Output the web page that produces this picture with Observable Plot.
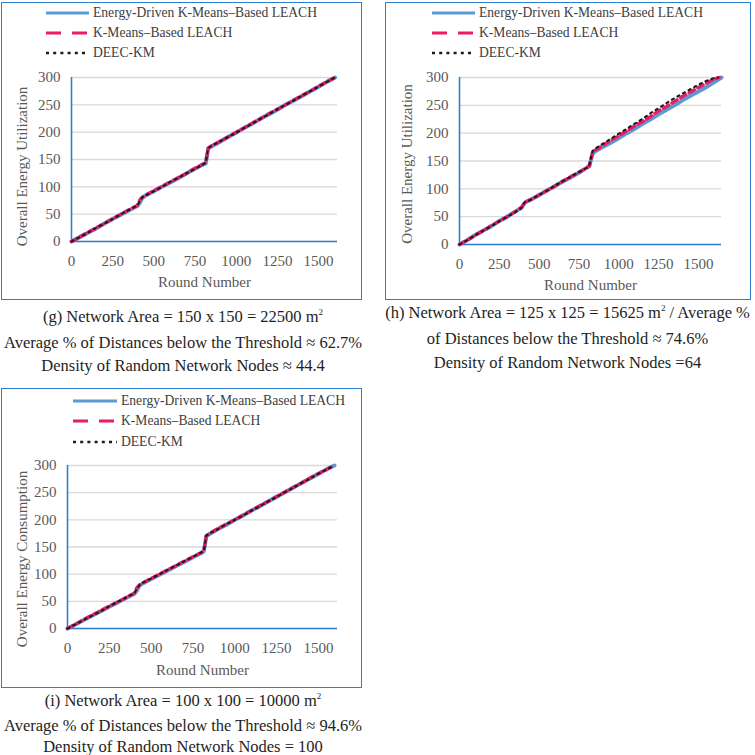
<!DOCTYPE html>
<html>
<head>
<meta charset="utf-8">
<script src="https://cdn.jsdelivr.net/npm/d3@7"></script>
<script src="https://cdn.jsdelivr.net/npm/@observablehq/plot@0.6"></script>
<style>
  body { margin: 0; background: #fff; }
  #page { position: relative; width: 755px; height: 755px; overflow: hidden; background: #fff;
          font-family: "Liberation Serif", "Times New Roman", Times, serif; }
  .box { position: absolute; box-sizing: border-box; border: 1.6px solid #2f7fcf; pointer-events: none; }
  .chart { position: absolute; }
  .legend { position: absolute; font-size: 13.6px; color: #404040; }
  .legend .row { position: absolute; left: 0; display: flex; align-items: center; white-space: nowrap; height: 18px; }
  .legend svg { display: block; margin-right: 4px; }
  .caption { position: absolute; text-align: center; font-size: 16.5px; color: #1e1e1e; white-space: nowrap; }
  .caption sup { font-size: 9px; vertical-align: 0; position: relative; top: -0.75em; }
</style>
</head>
<body>
<div id="page"></div>
<script>
// Series and axis ticks shared by all three panels
const seriesNames = ["Energy-Driven K-Means–Based LEACH", "K-Means–Based LEACH", "DEEC-KM"];
const yTicks = [0, 50, 100, 150, 200, 250, 300];
const xTicks = [0, 250, 500, 750, 1000, 1250, 1500];
const xTitle = "Round Number";

// (g) 150 x 150 network
const roundsG = [0, 50, 100, 150, 200, 250, 300, 350, 400, 415, 430, 450, 500, 550, 600, 650, 700, 750, 800, 815, 830, 850,
  900, 950, 1000, 1050, 1100, 1150, 1200, 1250, 1300, 1350, 1400, 1450, 1500, 1550, 1600];
const edkmG = [0, 8, 16, 24, 33, 41, 49, 57, 65, 71, 80, 84, 92, 100, 108, 116, 125, 133, 141, 143, 170, 174,
  182, 191, 199, 208, 216, 225, 233, 241, 250, 258, 266, 275, 283, 292, 300];
const kmG = [0, 8, 17, 25, 33, 42, 50, 58, 66, 76, 81, 85, 93, 101, 109, 117, 125, 134, 142, 144, 171, 175,
  183, 191, 200, 208, 217, 225, 234, 242, 250, 259, 267, 275, 284, 292, 300];
const deecG = [0, 8, 16, 25, 33, 41, 50, 58, 66, 74, 81, 84, 92, 100, 109, 117, 125, 133, 141, 144, 171, 175,
  183, 191, 199, 208, 216, 225, 233, 242, 250, 258, 267, 275, 283, 292, 300];
const yTitleG = "Overall Energy Utilization";
const captionG = ["(g) Network Area = 150 x 150 = 22500 m²", "Average % of Distances below the Threshold ≈ 62.7%",
  "Density of Random Network Nodes ≈ 44.4"];

// (h) 125 x 125 network
const roundsH = [0, 50, 100, 150, 200, 250, 300, 350, 390, 410, 450, 500, 550, 600, 650, 700, 750, 800, 815, 835, 850,
  900, 950, 1000, 1050, 1100, 1150, 1200, 1250, 1300, 1350, 1400, 1450, 1500, 1550, 1600];
const edkmRoundsH = [...roundsH, 1645];
const edkmH = [0, 8, 17, 25, 33, 42, 50, 59, 66, 75, 81, 89, 97, 105, 113, 121, 129, 138, 141, 162, 167,
  175, 183, 191, 200, 208, 217, 225, 234, 242, 250, 259, 267, 275, 283, 292, 300];
const kmRoundsH = [...roundsH, 1630];
const kmH = [0, 8, 17, 25, 34, 42, 50, 59, 67, 76, 81, 89, 97, 105, 114, 122, 130, 138, 141, 165, 169,
  178, 187, 195, 204, 213, 221, 230, 240, 248, 257, 266, 274, 282, 290, 297, 300];
const deecRoundsH = [...roundsH, 1622];
const deecH = [0, 8, 17, 25, 33, 42, 50, 58, 66, 76, 81, 89, 97, 106, 114, 122, 130, 138, 142, 168, 172,
  181, 190, 199, 208, 217, 226, 236, 245, 254, 263, 271, 279, 287, 294, 299, 300];
const yTitleH = "Overall Energy Utilization";
const captionH = ["(h) Network Area = 125 x 125 = 15625 m² / Average %", "of Distances below the Threshold ≈ 74.6%",
  "Density of Random Network Nodes =64"];

// (i) 100 x 100 network
const roundsI = [0, 50, 100, 150, 200, 250, 300, 350, 400, 415, 430, 450, 500, 550, 600, 650, 700, 750, 800, 815, 830, 850,
  900, 950, 1000, 1050, 1100, 1150, 1200, 1250, 1300, 1350, 1400, 1450, 1500, 1550, 1595];
const edkmI = [0, 8, 16, 24, 32, 40, 48, 56, 64, 70, 79, 83, 91, 99, 107, 115, 123, 131, 139, 142, 170, 174,
  183, 191, 200, 208, 217, 225, 234, 242, 251, 259, 268, 276, 285, 293, 300];
const kmI = [0, 8, 17, 25, 33, 41, 49, 57, 65, 75, 80, 84, 92, 100, 108, 116, 124, 132, 140, 143, 171, 175,
  184, 192, 200, 209, 217, 226, 234, 243, 251, 260, 268, 277, 285, 293, 300];
const deecI = [0, 8, 16, 24, 32, 41, 49, 57, 65, 73, 80, 84, 92, 100, 108, 116, 124, 132, 140, 143, 171, 175,
  183, 192, 200, 208, 217, 225, 234, 242, 251, 259, 268, 276, 285, 293, 300];
const yTitleI = "Overall Energy Consumption";
const captionI = ["(i) Network Area = 100 x 100 = 10000 m²", "Average % of Distances below the Threshold ≈ 94.6%",
  "Density of Random Network Nodes = 100"];

// Drawing styles
const axisBlue = "#2f7fcf";
const textGray = "#595959";
const lineStyle = {
  [seriesNames[0]]: {stroke: "#5b9bd5", strokeWidth: 4, chartDash: null, keyDash: null},
  [seriesNames[1]]: {stroke: "#ee1a66", strokeWidth: 3.4, chartDash: "6,4", keyDash: "15,11"},
  [seriesNames[2]]: {stroke: "#1c1c1c", strokeWidth: 2.1, chartDash: "2.2,4.2", keyDash: "3,4.2"}
};

const page = document.getElementById("page");

function addPanel(cfg) {
  const rows = cfg.series.flatMap(s => s.rounds.map((r, i) => ({series: s.name, round: r, value: s.values[i]})));
  const chart = Plot.plot({
    width: cfg.w, height: cfg.h,
    marginLeft: cfg.ml, marginRight: cfg.mr, marginTop: cfg.mt, marginBottom: cfg.mb,
    style: {fontFamily: '"Liberation Serif", "Times New Roman", Times, serif', color: textGray, background: "transparent", overflow: "visible"},
    x: {domain: [0, cfg.xMax]},
    y: {domain: [0, 300]},
    marks: [
      Plot.gridY(yTicks, {stroke: "#d9d9d9", strokeOpacity: 1, strokeWidth: 1.4}),
      Plot.axisY(yTicks, {tickSize: 0, tickPadding: 11, label: null, fontSize: 15, tickFormat: d => String(d)}),
      Plot.axisX(xTicks, {tickSize: 0, tickPadding: 14, label: null, fontSize: 15, tickFormat: d => String(d)}),
      Plot.ruleY([0], {stroke: axisBlue, strokeWidth: 1.6}),
      Plot.ruleX([0], {stroke: axisBlue, strokeWidth: 1.6}),
      ...seriesNames.map(name => {
        const st = lineStyle[name];
        return Plot.line(rows.filter(d => d.series === name), {
          x: "round", y: "value", stroke: st.stroke, strokeWidth: st.strokeWidth,
          strokeDasharray: st.chartDash || undefined, strokeLinejoin: "round"
        });
      }),
      Plot.text([xTitle], {text: d => d, frameAnchor: "bottom", lineAnchor: "middle", textAnchor: "middle",
        dy: cfg.xtDy, fontSize: 15, fill: textGray}),
      Plot.text([cfg.yTitle], {text: d => d, frameAnchor: "left", textAnchor: "middle", lineAnchor: "middle",
        rotate: -90, dx: cfg.ytDx, dy: cfg.ytDy, fontSize: 15, fill: textGray})
    ]
  });
  chart.classList.add("chart");
  chart.style.left = cfg.left + "px";
  chart.style.top = cfg.top + "px";
  page.appendChild(chart);

  const box = document.createElement("div");
  box.className = "box";
  Object.assign(box.style, {left: cfg.left + "px", top: cfg.top + "px", width: cfg.w + "px", height: cfg.h + "px"});
  page.appendChild(box);

  // legend
  const legend = document.createElement("div");
  legend.className = "legend";
  legend.style.left = cfg.legend.x + "px";
  legend.style.top = "0px";
  seriesNames.forEach((name, k) => {
    const st = lineStyle[name];
    const row = document.createElement("div");
    row.className = "row";
    row.style.top = (cfg.legend.ys[k] - 9) + "px";
    const ns = "http://www.w3.org/2000/svg";
    const svg = document.createElementNS(ns, "svg");
    svg.setAttribute("width", cfg.legend.len);
    svg.setAttribute("height", 8);
    const ln = document.createElementNS(ns, "line");
    ln.setAttribute("x1", 0); ln.setAttribute("x2", cfg.legend.len);
    ln.setAttribute("y1", 4); ln.setAttribute("y2", 4);
    ln.setAttribute("stroke", st.stroke);
    ln.setAttribute("stroke-width", k === 2 ? 2.6 : 3);
    if (st.keyDash) ln.setAttribute("stroke-dasharray", st.keyDash);
    svg.appendChild(ln);
    row.appendChild(svg);
    const label = document.createElement("span");
    label.textContent = name;
    row.appendChild(label);
    legend.appendChild(row);
  });
  page.appendChild(legend);

  // caption under the panel
  const cap = document.createElement("div");
  cap.className = "caption";
  Object.assign(cap.style, {left: cfg.cap.x + "px", width: cfg.cap.w + "px", top: cfg.cap.top + "px", lineHeight: cfg.cap.lh + "px"});
  cap.innerHTML = cfg.caption.map(t => t.replace("²", "<sup>2</sup>")).join("<br>");
  page.appendChild(cap);
}

addPanel({
  left: 1, top: 2, w: 361, h: 298, ml: 70, mr: 25, mt: 75, mb: 59, xMax: 1615,
  xtDy: 41, ytDx: -49, ytDy: 7, yTitle: yTitleG,
  series: [
    {name: seriesNames[0], rounds: roundsG, values: edkmG},
    {name: seriesNames[1], rounds: roundsG, values: kmG},
    {name: seriesNames[2], rounds: roundsG, values: deecG}
  ],
  legend: {x: 46, len: 43, ys: [13, 33, 53]},
  caption: captionG, cap: {x: 0, w: 366, top: 304.5, lh: 23}
});

addPanel({
  left: 385, top: 2, w: 366, h: 298, ml: 74, mr: 30, mt: 75, mb: 56, xMax: 1645,
  xtDy: 41, ytDx: -52, ytDy: 3, yTitle: yTitleH,
  series: [
    {name: seriesNames[0], rounds: edkmRoundsH, values: edkmH},
    {name: seriesNames[1], rounds: kmRoundsH, values: kmH},
    {name: seriesNames[2], rounds: deecRoundsH, values: deecH}
  ],
  legend: {x: 432, len: 43, ys: [13, 33, 53]},
  caption: captionH, cap: {x: 380, w: 375, top: 301, lh: 24}
});

addPanel({
  left: 1, top: 388, w: 361, h: 300, ml: 66, mr: 25, mt: 77, mb: 60, xMax: 1614,
  xtDy: 42, ytDx: -45, ytDy: 12, yTitle: yTitleI,
  series: [
    {name: seriesNames[0], rounds: roundsI, values: edkmI},
    {name: seriesNames[1], rounds: roundsI, values: kmI},
    {name: seriesNames[2], rounds: roundsI, values: deecI}
  ],
  legend: {x: 73, len: 44, ys: [401, 421, 442]},
  caption: captionI, cap: {x: 0, w: 366, top: 690, lh: 21.5}
});
</script>
</body>
</html>
